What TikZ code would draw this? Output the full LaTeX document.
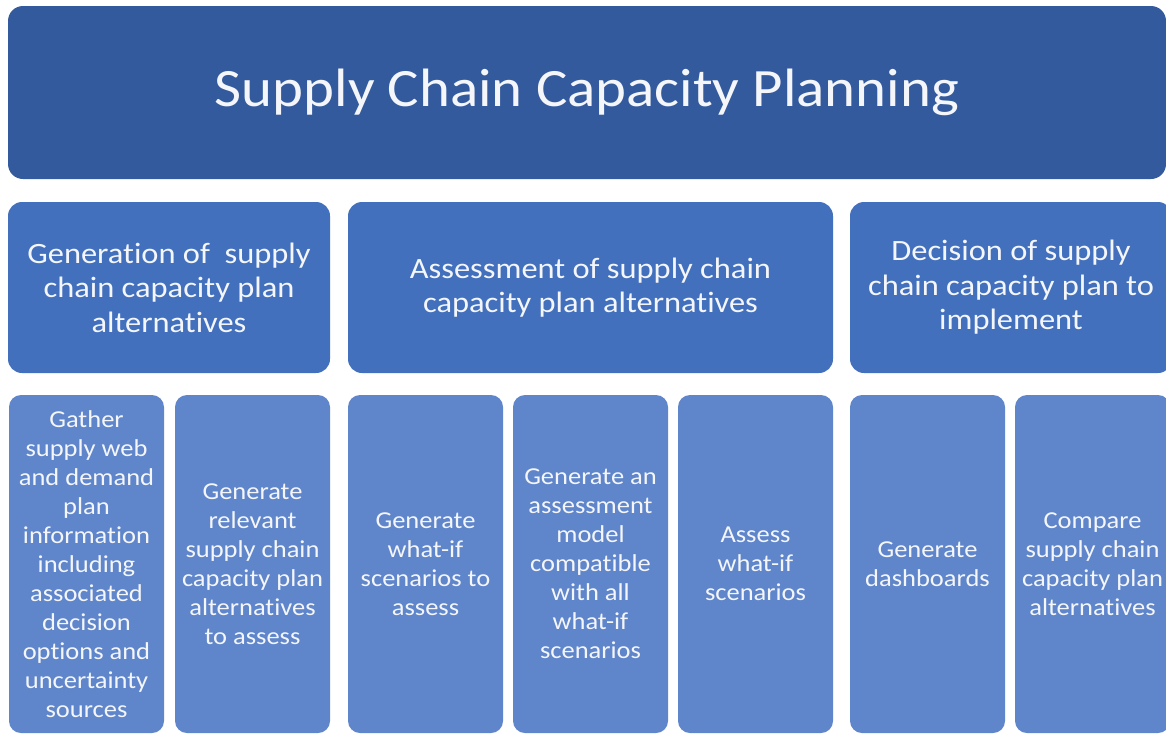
\documentclass[tikz,border=0pt]{standalone}
\usepackage{fontspec}
\setmainfont{Carlito}
\newfontfamily\titlefont[FakeStretch=1.09,Ligatures=NoCommon]{Carlito}
\newfontfamily\midfont[FakeStretch=1.1,Ligatures=NoCommon]{Carlito}
\newfontfamily\lowfont[FakeStretch=1.09,Ligatures=NoCommon]{Carlito}
\definecolor{topc}{HTML}{335A9D}
\definecolor{midc}{HTML}{4270BD}
\definecolor{lowc}{HTML}{5F85CA}
\definecolor{txt}{HTML}{F4F6FA}
\begin{document}
\begin{tikzpicture}[x=1pt,y=-1pt,
  topbox/.style={fill=topc, rounded corners=15pt, text=txt, inner sep=0pt,
    minimum width=1158pt, minimum height=173pt,
    font=\titlefont\fontsize{54}{60}\selectfont},
  midbox/.style={fill=midc, rounded corners=14pt, text=txt, inner sep=0pt,
    minimum height=171pt, align=center,
    font=\midfont\fontsize{29.5}{34.5}\selectfont},
  lowbox/.style={fill=lowc, rounded corners=12pt, text=txt, inner sep=0pt,
    minimum width=155pt, minimum height=338pt, align=center,
    font=\lowfont\fontsize{24.3}{29}\selectfont}]
\useasboundingbox (0,0) rectangle (1166,734);
\clip (0,0) rectangle (1166,734);
\node[topbox] (title) at (587,92.5) {Supply Chain Capacity Planning};

\node[midbox, minimum width=322pt] (gen) at (169,287.5)
  {Generation of~ supply\\chain capacity plan\\alternatives};
\node[midbox, minimum width=485pt] (ass) at (590.5,287.5)
  {Assessment of supply chain\\capacity plan alternatives};
\node[midbox, minimum width=322pt] (dec) at (1011,287.5)
  {Decision of supply\\chain capacity plan to\\implement};

\node[lowbox] (l1) at (86.5,564)
  {Gather\\supply web\\and demand\\plan\\information\\including\\associated\\decision\\options and\\uncertainty\\sources};
\node[lowbox] (l2) at (252.5,564)
  {Generate\\relevant\\supply chain\\capacity plan\\alternatives\\to assess};
\node[lowbox] (l3) at (425.5,564)
  {Generate\\what-if\\scenarios to\\assess};
\node[lowbox] (l4) at (590.5,564)
  {Generate an\\assessment\\model\\compatible\\with all\\what-if\\scenarios};
\node[lowbox] (l5) at (755.5,564)
  {Assess\\what-if\\scenarios};
\node[lowbox] (l6) at (927.5,564)
  {Generate\\dashboards};
\node[lowbox] (l7) at (1092.5,564)
  {Compare\\supply chain\\capacity plan\\alternatives};
\end{tikzpicture}
\end{document}
